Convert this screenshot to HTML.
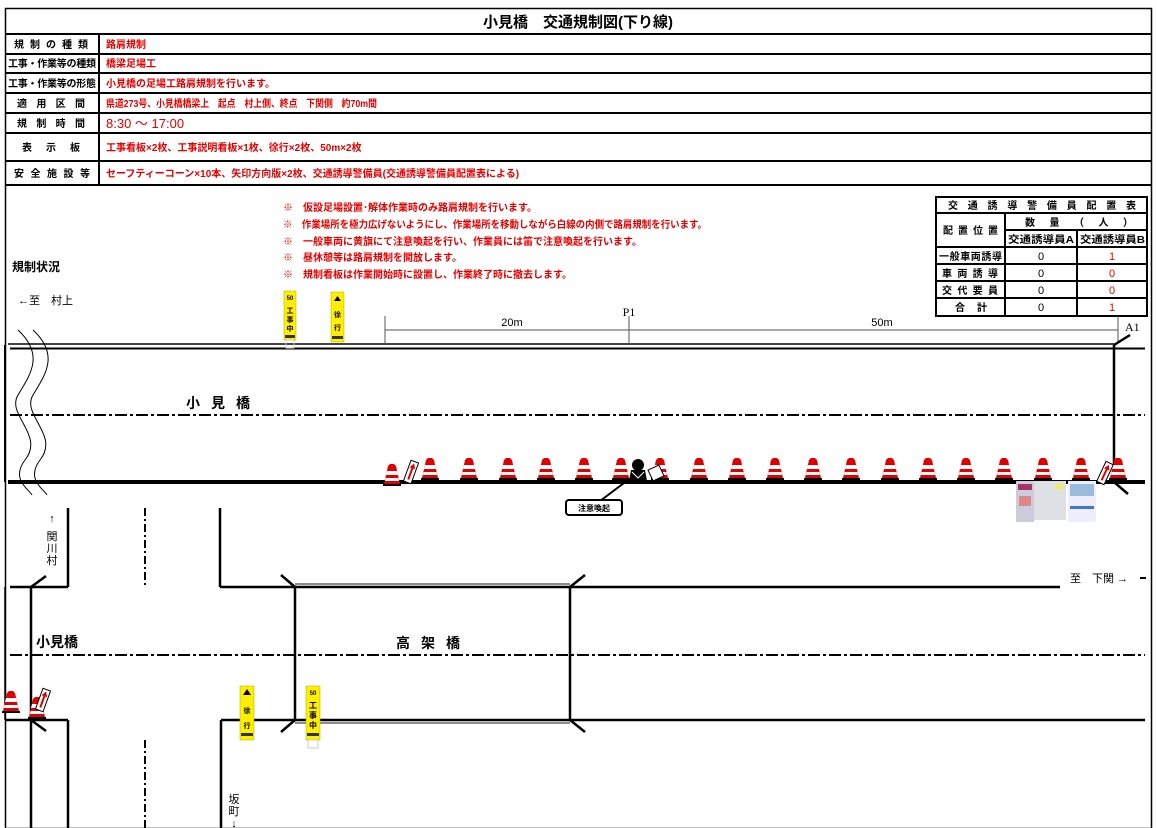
<!DOCTYPE html>
<html><head><meta charset="utf-8"><style>
html,body{margin:0;padding:0;background:#fff;}
svg{display:block;font-family:"Liberation Sans","Noto Sans CJK JP",sans-serif;}
.r{fill:#e00000;font-weight:bold;font-size:10px;}
.k{fill:#000;font-weight:bold;font-size:10px;}
</style></head><body>
<svg width="1157" height="828" viewBox="0 0 1157 828" xmlns="http://www.w3.org/2000/svg">
<defs>
<g id="cone">
<path d="M-4,-20 L4,-20 L8,-2 L-8,-2 Z" fill="#e00000"/>
<path d="M-5,-15 L5,-15 L6,-11 L-6,-11 Z M-6.5,-8 L6.5,-8 L7,-5 L-7,-5 Z" fill="#fff"/>
<path d="M-2,-22 L2,-22 L4,-20 L-4,-20Z" fill="#e00000"/>
<rect x="-9" y="-2" width="18" height="2" fill="#000"/>
</g>
<g id="arrowb">
<rect x="-4" y="-11" width="8" height="22" fill="#fff" stroke="#000" stroke-width="1"/>
<line x1="0" y1="8" x2="0" y2="-6" stroke="#d00" stroke-width="2"/>
<path d="M-3,-4 L0,-9 L3,-4Z" fill="#d00"/>
</g>
</defs>

<rect x="5.5" y="8.5" width="1146" height="820" fill="none" stroke="#000" stroke-width="1.5"/>
<text x="578" y="27" text-anchor="middle" font-size="15" font-weight="bold">小見橋　交通規制図(下り線)</text>
<g stroke="#000" stroke-width="2">
<line x1="5" y1="34" x2="1152" y2="34"/>
<line x1="5" y1="54" x2="1152" y2="54"/>
<line x1="5" y1="73" x2="1152" y2="73"/>
<line x1="5" y1="93" x2="1152" y2="93"/>
<line x1="5" y1="113" x2="1152" y2="113"/>
<line x1="5" y1="133" x2="1152" y2="133"/>
<line x1="5" y1="161" x2="1152" y2="161"/>
<line x1="5" y1="185" x2="1152" y2="185"/>
<line x1="99" y1="34" x2="99" y2="185"/>
</g>
<g class="k">
<text x="14" y="48" textLength="74" lengthAdjust="spacing">規制の種類</text>
<text x="8" y="67" textLength="88" lengthAdjust="spacing">工事・作業等の種類</text>
<text x="8" y="87" textLength="88" lengthAdjust="spacing">工事・作業等の形態</text>
<text x="17" y="107" textLength="68" lengthAdjust="spacing">適用区間</text>
<text x="17" y="127" textLength="68" lengthAdjust="spacing">規制時間</text>
<text x="22" y="151" textLength="58" lengthAdjust="spacing">表示板</text>
<text x="14" y="177" textLength="76" lengthAdjust="spacing">安全施設等</text>
</g>
<g class="r">
<text x="106" y="48">路肩規制</text>
<text x="106" y="67">橋梁足場工</text>
<text x="106" y="87">小見橋の足場工路肩規制を行います。</text>
<text x="106" y="107" textLength="271" lengthAdjust="spacingAndGlyphs">県道273号、小見橋橋梁上　起点　村上側、終点　下関側　約70m間</text>
<text x="106" y="128" style="font-weight:normal;font-size:13px">8:30 ～ 17:00</text>
<text x="106" y="151">工事看板×2枚、工事説明看板×1枚、徐行×2枚、50m×2枚</text>
<text x="106" y="177">セーフティーコーン×10本、矢印方向版×2枚、交通誘導警備員(交通誘導警備員配置表による)</text>
</g>

<g class="r">
<text x="283" y="211">※　仮設足場設置･解体作業時のみ路肩規制を行います。</text>
<text x="283" y="228" textLength="424" lengthAdjust="spacingAndGlyphs">※　作業場所を極力広げないようにし、作業場所を移動しながら白線の内側で路肩規制を行います。</text>
<text x="283" y="245">※　一般車両に黄旗にて注意喚起を行い、作業員には笛で注意喚起を行います。</text>
<text x="283" y="261">※　昼休憩等は路肩規制を開放します。</text>
<text x="283" y="278">※　規制看板は作業開始時に設置し、作業終了時に撤去します。</text>
</g>

<g stroke="#000" stroke-width="2" fill="none">
<rect x="936" y="197" width="211" height="119"/>
<line x1="936" y1="213" x2="1147" y2="213"/>
<line x1="1005" y1="230" x2="1147" y2="230"/>
<line x1="936" y1="247" x2="1147" y2="247"/>
<line x1="936" y1="264" x2="1147" y2="264"/>
<line x1="936" y1="281" x2="1147" y2="281"/>
<line x1="936" y1="298" x2="1147" y2="298"/>
<line x1="1005" y1="213" x2="1005" y2="316"/>
<line x1="1077" y1="230" x2="1077" y2="316"/>
</g>
<g class="k">
<text x="948" y="209" textLength="188" lengthAdjust="spacing">交通誘導警備員配置表</text>
<text x="1025" y="226" textLength="108" lengthAdjust="spacing">数量（人）</text>
<text x="943" y="234" textLength="55" lengthAdjust="spacing">配置位置</text>
<text x="1008" y="243" textLength="66" lengthAdjust="spacingAndGlyphs">交通誘導員A</text>
<text x="1080" y="243" textLength="65" lengthAdjust="spacingAndGlyphs">交通誘導員B</text>
<text x="939" y="260" textLength="63" lengthAdjust="spacing">一般車両誘導</text>
<text x="942" y="277" textLength="56" lengthAdjust="spacing">車両誘導</text>
<text x="942" y="294" textLength="56" lengthAdjust="spacing">交代要員</text>
<text x="955" y="311" textLength="32" lengthAdjust="spacing">合計</text>
</g>
<g font-size="11" text-anchor="middle">
<text x="1041" y="260">0</text><text x="1041" y="277">0</text><text x="1041" y="294">0</text><text x="1041" y="311">0</text>
<text x="1112" y="260" fill="#e00">1</text><text x="1112" y="277" fill="#e00">0</text><text x="1112" y="294" fill="#e00">0</text><text x="1112" y="311" fill="#e00">1</text>
</g>

<text x="12" y="271" style="font-weight:bold;font-size:12px">規制状況</text>
<text x="18" y="304" font-size="11">←至　村上</text>

<g stroke="#555" stroke-width="1">
<line x1="385" y1="330" x2="1118" y2="330"/>
<line x1="385" y1="316" x2="385" y2="343"/>
<line x1="629" y1="316" x2="629" y2="343"/>
<line x1="1118" y1="316" x2="1118" y2="343"/>
</g>
<text x="512" y="326" font-size="11" text-anchor="middle">20m</text>
<text x="882" y="326" font-size="11" text-anchor="middle">50m</text>
<text x="629" y="316" font-size="12" text-anchor="middle" font-family="Liberation Serif,serif">P1</text>
<text x="1125" y="331" font-size="12" font-family="Liberation Serif,serif">A1</text>

<g stroke="#000" fill="none">
<line x1="8" y1="344" x2="1114" y2="344" stroke-width="2" stroke="#444"/>
<line x1="10" y1="348.5" x2="1145" y2="348.5" stroke-width="2"/>
<line x1="8" y1="482" x2="1145" y2="482" stroke-width="4"/>
<line x1="5" y1="345" x2="5" y2="482" stroke-width="2"/>
<line x1="1114" y1="345" x2="1114" y2="482" stroke-width="2.5"/>
<line x1="1114" y1="345" x2="1130" y2="335" stroke-width="2.5"/>
<line x1="1114" y1="482" x2="1128" y2="494" stroke-width="2.5"/>
<line x1="10" y1="415" x2="1145" y2="415" stroke-width="2" stroke-dasharray="12,3,3,3"/>
<path d="M18,330 C45,355 30,375 18,395 C6,415 45,435 25,460 C10,480 30,490 32,495" stroke-width="1"/>
<path d="M33,330 C60,355 45,375 33,395 C21,415 60,435 40,460 C25,480 45,490 47,495" stroke-width="1"/>
</g>
<text x="186" y="408" style="font-weight:bold;font-size:14px" textLength="64" lengthAdjust="spacing">小見橋</text>

<g>
<rect x="284" y="291" width="12" height="49" fill="#ffee00" stroke="#aa0" stroke-width="0.5"/>
<text x="290" y="300" font-size="6" text-anchor="middle" font-weight="bold">50</text>
<text x="290" y="313" font-size="7" text-anchor="middle" font-weight="bold">工</text>
<text x="290" y="322" font-size="7" text-anchor="middle" font-weight="bold">事</text>
<text x="290" y="331" font-size="7" text-anchor="middle" font-weight="bold">中</text>
<rect x="285" y="335" width="10" height="3" fill="#333"/>
<rect x="286" y="340" width="8" height="8" fill="none" stroke="#ccc"/>
<rect x="331" y="292" width="13" height="50" fill="#ffee00" stroke="#aa0" stroke-width="0.5"/>
<path d="M334,301 L337.5,296 L341,301Z" fill="#000"/>
<text x="337.5" y="317" font-size="7" text-anchor="middle" font-weight="bold">徐</text>
<text x="337.5" y="330" font-size="7" text-anchor="middle" font-weight="bold">行</text>
<rect x="332" y="336" width="11" height="3" fill="#333"/>
</g>

<use href="#cone" x="392" y="486"/>
<use href="#arrowb" transform="translate(411,472) rotate(20)"/>
<use href="#cone" x="430" y="480"/>
<use href="#cone" x="469" y="480"/>
<use href="#cone" x="508" y="480"/>
<use href="#cone" x="546" y="480"/>
<use href="#cone" x="584" y="480"/>
<use href="#cone" x="621" y="480"/>
<use href="#cone" x="660" y="480"/>
<use href="#cone" x="699" y="480"/>
<use href="#cone" x="737" y="480"/>
<use href="#cone" x="775" y="480"/>
<use href="#cone" x="813" y="480"/>
<use href="#cone" x="851" y="480"/>
<use href="#cone" x="890" y="480"/>
<use href="#cone" x="928" y="480"/>
<use href="#cone" x="966" y="480"/>
<use href="#cone" x="1004" y="480"/>
<use href="#cone" x="1043" y="480"/>
<use href="#cone" x="1081" y="480"/>
<use href="#cone" x="1118" y="480"/>
<use href="#arrowb" transform="translate(1105,473) rotate(25)"/>
<circle cx="638" cy="465" r="6" fill="#000"/>
<path d="M629,481 L631,470 L645,470 L647,481Z" fill="#000"/>
<path d="M632,472 L638,478 L644,472" stroke="#fff" fill="none"/>
<rect x="650" y="467" width="12" height="12" fill="#fff" stroke="#000" transform="rotate(-25 656 473)"/>
<line x1="624" y1="483" x2="600" y2="501" stroke="#000" stroke-width="2"/>
<rect x="566" y="500" width="56" height="15" rx="3" fill="#fff" stroke="#000" stroke-width="2"/>
<text x="594" y="511" font-size="8" text-anchor="middle" font-weight="bold">注意喚起</text>
<rect x="1016" y="481" width="18" height="41" fill="#ccd" /><rect x="1018" y="484" width="14" height="6" fill="#a36"/><rect x="1019" y="496" width="12" height="10" fill="#d88"/>
<rect x="1034" y="481" width="32" height="39" fill="#dde0e4"/><rect x="1055" y="484" width="8" height="5" fill="#ee5"/>
<rect x="1068" y="481" width="28" height="41" fill="#eef"/><rect x="1070" y="484" width="24" height="12" fill="#9bd"/><rect x="1070" y="506" width="24" height="3" fill="#47c"/>

<g stroke="#000" stroke-width="2.5" fill="none">
<line x1="68" y1="508" x2="68" y2="587"/>
<line x1="220" y1="508" x2="220" y2="587"/>
<line x1="145" y1="508" x2="145" y2="587" stroke-width="2" stroke-dasharray="8,3,2,3"/>
<line x1="10" y1="587" x2="68" y2="587"/>
<line x1="220" y1="587" x2="1060" y2="587"/>
<line x1="295" y1="584" x2="570" y2="584" stroke-width="1.5" stroke="#666"/>
<line x1="5" y1="720" x2="68" y2="720"/>
<line x1="221" y1="720" x2="1145" y2="720"/>
<line x1="295" y1="723" x2="570" y2="723" stroke-width="1.5" stroke="#666"/>
<line x1="68" y1="720" x2="68" y2="828"/>
<line x1="221" y1="720" x2="221" y2="828"/>
<line x1="145" y1="740" x2="145" y2="828" stroke-width="2" stroke-dasharray="8,3,2,3"/>
<line x1="10" y1="655" x2="1145" y2="655" stroke-width="2" stroke-dasharray="12,3,3,3"/>
<line x1="31" y1="587" x2="31" y2="828"/>
<line x1="31" y1="587" x2="46" y2="576"/>
<line x1="31" y1="720" x2="46" y2="731"/>
<line x1="295" y1="587" x2="295" y2="720"/>
<line x1="570" y1="587" x2="570" y2="720"/>
<line x1="295" y1="587" x2="281" y2="575"/>
<line x1="570" y1="587" x2="585" y2="575"/>
<line x1="295" y1="720" x2="281" y2="732"/>
<line x1="570" y1="720" x2="585" y2="732"/>
<line x1="5" y1="587" x2="5" y2="720" stroke-width="1.5"/>
<line x1="1140" y1="578" x2="1146" y2="578" stroke-width="2"/>
</g>
<text x="36" y="647" style="font-weight:bold;font-size:14px">小見橋</text>
<text x="396" y="648" style="font-weight:bold;font-size:14px" textLength="64" lengthAdjust="spacing">高架橋</text>
<g font-size="11" text-anchor="middle">
<text x="52" y="522">↑</text><text x="52" y="540">関</text><text x="52" y="552">川</text><text x="52" y="564">村</text>
<text x="234" y="803">坂</text><text x="234" y="815">町</text><text x="234" y="827">↓</text>
</g>
<text x="1070" y="582" font-size="11">至　下関 →</text>

<use href="#cone" x="11" y="713"/>
<use href="#cone" x="37" y="719"/>
<use href="#arrowb" transform="translate(43,700) rotate(20)"/>
<rect x="240" y="686" width="14" height="54" fill="#ffee00" stroke="#aa0" stroke-width="0.5"/>
<path d="M243,695 L247,689 L251,695Z" fill="#000"/>
<text x="247" y="713" font-size="7" text-anchor="middle" font-weight="bold">徐</text>
<text x="247" y="728" font-size="7" text-anchor="middle" font-weight="bold">行</text>
<rect x="241" y="733" width="12" height="3" fill="#333"/>
<rect x="306" y="686" width="14" height="54" fill="#ffee00" stroke="#aa0" stroke-width="0.5"/>
<text x="313" y="695" font-size="6" text-anchor="middle" font-weight="bold">50</text>
<text x="313" y="708" font-size="8" text-anchor="middle" font-weight="bold">工</text>
<text x="313" y="718" font-size="8" text-anchor="middle" font-weight="bold">事</text>
<text x="313" y="728" font-size="8" text-anchor="middle" font-weight="bold">中</text>
<rect x="307" y="733" width="12" height="3" fill="#333"/>
<rect x="308" y="740" width="10" height="8" fill="none" stroke="#ccc"/>
</svg>
</body></html>
